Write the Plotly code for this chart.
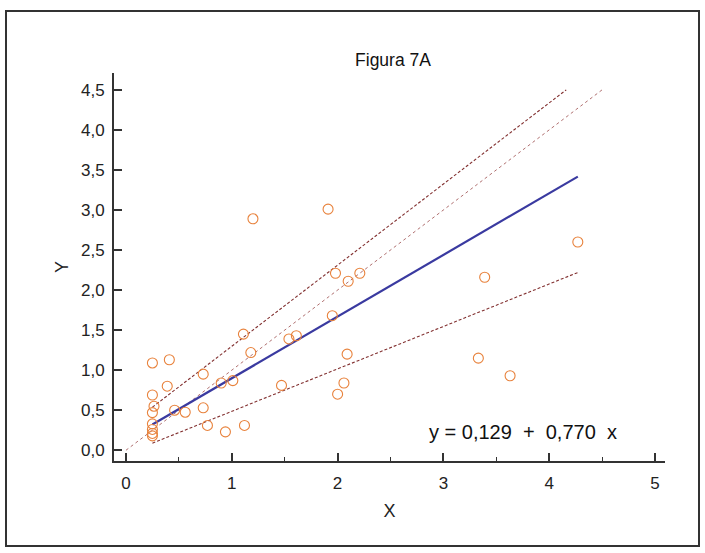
import plotly.graph_objects as go

# ---- data ----
x_vals = [0.25, 0.41, 0.73, 0.39, 0.25, 0.90, 1.01, 1.18, 0.265, 0.25,
          0.46, 0.56, 0.73, 0.25, 0.25, 0.25, 0.25, 0.77, 0.94, 1.12,
          1.20, 1.91, 1.98, 2.10, 2.21, 1.95, 1.11, 1.54, 1.61, 2.09,
          1.47, 2.06, 2.00, 4.27, 3.39, 3.33, 3.63]
y_vals = [1.09, 1.13, 0.95, 0.80, 0.69, 0.84, 0.87, 1.22, 0.55, 0.47,
          0.50, 0.475, 0.53, 0.33, 0.26, 0.21, 0.18, 0.31, 0.23, 0.31,
          2.89, 3.01, 2.21, 2.11, 2.21, 1.68, 1.45, 1.39, 1.43, 1.20,
          0.81, 0.84, 0.70, 2.60, 2.16, 1.15, 0.93]

reg_intercept, reg_slope = 0.129, 0.770
ci_upper_intercept, ci_upper_slope = 0.285, 1.013
ci_lower_intercept, ci_lower_slope = -0.044, 0.53
y_cap = 4.5

x_ticks = [0, 1, 2, 3, 4, 5]
y_ticks = [0, 0.5, 1, 1.5, 2, 2.5, 3, 3.5, 4, 4.5]

title_text = "Figura 7A"
x_title = "X"
y_title = "Y"
equation = "y = 0,129  +  0,770  x"

FONT = "Liberation Sans, Arial, sans-serif"

xmin, xmax = min(x_vals), max(x_vals)


def line_pts(a, b, x0, x1):
    # clip at y_cap
    if a + b * x1 > y_cap:
        x1 = (y_cap - a) / b
    return [x0, x1], [a + b * x0, a + b * x1]


fig = go.Figure()

# identity line
fig.add_trace(go.Scatter(x=[0, y_cap], y=[0, y_cap], mode="lines",
                         line=dict(color="#b07070", width=1, dash="dot"),
                         hoverinfo="skip", showlegend=False))
ux, uy = line_pts(ci_upper_intercept, ci_upper_slope, xmin, xmax)
fig.add_trace(go.Scatter(x=ux, y=uy, mode="lines",
                         line=dict(color="#823030", width=1.1, dash="3px,2px"),
                         hoverinfo="skip", showlegend=False))
lx, ly = line_pts(ci_lower_intercept, ci_lower_slope, xmin, xmax)
fig.add_trace(go.Scatter(x=lx, y=ly, mode="lines",
                         line=dict(color="#823030", width=1.1, dash="3px,2px"),
                         hoverinfo="skip", showlegend=False))
rx, ry = line_pts(reg_intercept, reg_slope, xmin, xmax)
fig.add_trace(go.Scatter(x=rx, y=ry, mode="lines",
                         line=dict(color="#3a3aa0", width=2.2),
                         hoverinfo="skip", showlegend=False))

fig.add_trace(go.Scatter(x=x_vals, y=y_vals, mode="markers",
                         marker=dict(symbol="circle-open", size=10,
                                     color="#e8823c", line=dict(width=1.1)),
                         showlegend=False))

W, H = 705, 553
L, R, T, B = 114, 40, 73, 92
pw, ph = W - L - R, H - T - B


def px2paper(px, py):
    return (px - L) / pw, (H - B - py) / ph


fx0, fy0 = px2paper(6, 546)
fx1, fy1 = px2paper(699, 11)

fig.update_layout(
    width=W, height=H,
    margin=dict(l=L, r=R, t=T, b=B),
    paper_bgcolor="white", plot_bgcolor="white",
    separators=",.",
    font=dict(family=FONT, size=17, color="#222"),
    title=dict(text=title_text, x=393 / W, xanchor="center",
               y=1 - 60 / H, yanchor="middle", yref="container",
               font=dict(family=FONT, size=17.5, color="#111")),
    xaxis=dict(range=[-0.113, 5.094], tickvals=x_ticks, ticks="inside",
               ticklen=8, tickwidth=1.5, tickcolor="#333",
               showline=True, linecolor="#333", linewidth=1.8,
               showgrid=False, zeroline=False, ticklabelstandoff=6,
               minor=dict(dtick=0.5, ticks="inside", ticklen=4,
                          tickcolor="#333", tickwidth=1.2, showgrid=False),
               title=dict(text=x_title, standoff=12,
                          font=dict(family=FONT, size=18))),
    yaxis=dict(range=[-0.134, 4.71], tickvals=y_ticks, tickformat=".1f",
               ticks="inside", ticklen=8, tickwidth=1.5, tickcolor="#333",
               showline=True, linecolor="#333", linewidth=1.8,
               showgrid=False, zeroline=False, ticklabelstandoff=4,
               title=dict(text=y_title, standoff=8,
                          font=dict(family=FONT, size=18))),
    annotations=[dict(text=equation, xref="paper", yref="paper",
                      x=px2paper(523, 432)[0], y=px2paper(523, 432)[1],
                      xanchor="center", yanchor="middle", showarrow=False,
                      font=dict(family=FONT, size=20, color="#111"))],
    shapes=[dict(type="rect", xref="paper", yref="paper",
                 x0=fx0, y0=fy0, x1=fx1, y1=fy1,
                 line=dict(color="#333", width=2), fillcolor="rgba(0,0,0,0)",
                 layer="below")],
)

fig.write_html("out.html")
